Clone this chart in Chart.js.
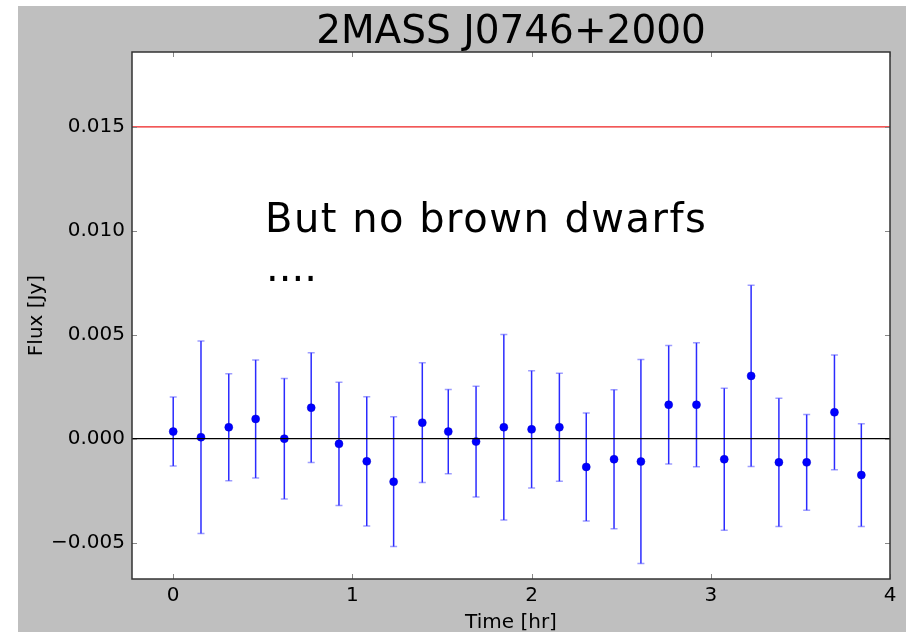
<!DOCTYPE html>
<html>
<head>
<meta charset="utf-8">
<script src="https://cdn.jsdelivr.net/npm/chart.js@4.4.1/dist/chart.umd.min.js"></script>
<style>
  body { margin: 0; background: #ffffff; }
  #fluxChart { position: absolute; left: 18px; top: 6px; background: #bfbfbf; }
</style>
</head>
<body>
<canvas id="fluxChart" width="888" height="626"></canvas>
<script>
// light curve values
const times = [0.00, 0.155, 0.31, 0.46, 0.62, 0.77, 0.925, 1.08, 1.23, 1.39, 1.535, 1.69, 1.845,
               2.00, 2.155, 2.305, 2.46, 2.61, 2.765, 2.92, 3.075, 3.225, 3.38, 3.535, 3.69, 3.84];
const flux = [0.00034, 0.00007, 0.00055, 0.00095, 0.00000, 0.00149, -0.00025, -0.00109, -0.00207,
              0.00077, 0.00034, -0.00014, 0.00055, 0.00045, 0.00055, -0.00136, -0.00099, -0.00110,
              0.00163, 0.00163, -0.00099, 0.00302, -0.00114, -0.00114, 0.00127, -0.00175];
const fluxErr = [0.00166, 0.00463, 0.00257, 0.00284, 0.00290, 0.00264, 0.00296, 0.00311, 0.00312,
                 0.00288, 0.00203, 0.00266, 0.00446, 0.00282, 0.00260, 0.00260, 0.00334, 0.00491,
                 0.00285, 0.00298, 0.00342, 0.00436, 0.00308, 0.00230, 0.00276, 0.00247];
const xTicks = [0, 1, 2, 3, 4];
const yTicks = [-0.005, 0.000, 0.005, 0.010, 0.015];
const xRange = [-0.23, 4];
const yRange = [-0.00675, 0.0186];
const limitLevel = 0.015;
const zeroLevel = 0;

const FONT = 'DejaVu Sans';

function tickLabel(v) {
    return v.toFixed(3).replace('-', '\u2212');
}

// white plot area, frame and inward ticks like the original
const framePlugin = {
    id: 'frame',
    beforeDraw(chart) {
        const a = chart.chartArea;
        const ctx = chart.ctx;
        ctx.save();
        ctx.fillStyle = '#ffffff';
        ctx.fillRect(a.left, a.top, a.right - a.left, a.bottom - a.top);
        ctx.restore();
    },
    afterDraw(chart) {
        const a = chart.chartArea;
        const ctx = chart.ctx;
        const xs = chart.scales.x, ys = chart.scales.y;
        ctx.save();
        ctx.strokeStyle = '#888';
        ctx.lineWidth = 1;
        ctx.beginPath();
        xTicks.forEach(v => {
            const px = Math.round(xs.getPixelForValue(v)) + 0.5;
            ctx.moveTo(px, a.bottom); ctx.lineTo(px, a.bottom - 5);
            ctx.moveTo(px, a.top); ctx.lineTo(px, a.top + 5);
        });
        yTicks.forEach(v => {
            const py = Math.round(ys.getPixelForValue(v)) + 0.5;
            ctx.moveTo(a.left, py); ctx.lineTo(a.left + 5, py);
            ctx.moveTo(a.right, py); ctx.lineTo(a.right - 5, py);
        });
        ctx.stroke();
        ctx.strokeStyle = '#333';
        ctx.lineWidth = 1.5;
        ctx.strokeRect(a.left, a.top, a.right - a.left, a.bottom - a.top);
        // annotation
        ctx.fillStyle = '#000';
        ctx.font = '40px "' + FONT + '"';
        ctx.textAlign = 'left';
        ctx.textBaseline = 'alphabetic';
        ctx.letterSpacing = '1.5px';
        ctx.fillText('But no brown dwarfs', 247, 226);
        ctx.letterSpacing = '0px';
        ctx.fillText('....', 248, 275);
        ctx.restore();
    }
};

// vertical error bars with caps, drawn under the points
const errorBarPlugin = {
    id: 'errorBars',
    beforeDatasetDraw(chart, args) {
        if (args.index !== 2) return;
        const ctx = chart.ctx;
        const xs = chart.scales.x, ys = chart.scales.y;
        ctx.save();
        times.forEach((t, i) => {
            const px = xs.getPixelForValue(t);
            const top = ys.getPixelForValue(flux[i] + fluxErr[i]);
            const bot = ys.getPixelForValue(flux[i] - fluxErr[i]);
            ctx.strokeStyle = 'rgba(20, 20, 255, 0.9)';
            ctx.lineWidth = 1.5;
            ctx.beginPath();
            ctx.moveTo(px, top); ctx.lineTo(px, bot);
            ctx.stroke();
            ctx.strokeStyle = 'rgba(60, 60, 255, 0.5)';
            ctx.lineWidth = 1.5;
            ctx.beginPath();
            ctx.moveTo(px - 3.5, top); ctx.lineTo(px + 3.5, top);
            ctx.moveTo(px - 3.5, bot); ctx.lineTo(px + 3.5, bot);
            ctx.stroke();
        });
        ctx.restore();
    }
};

document.addEventListener('DOMContentLoaded', function() {
    const ctx = document.getElementById('fluxChart').getContext('2d');
    new Chart(ctx, {
        type: 'scatter',
        data: {
            datasets: [
                {
                    label: 'limit',
                    data: xRange.map(x => ({ x: x, y: limitLevel })),
                    showLine: true,
                    borderColor: '#ee2020',
                    borderWidth: 1.3,
                    pointRadius: 0
                },
                {
                    label: 'zero',
                    data: xRange.map(x => ({ x: x, y: zeroLevel })),
                    showLine: true,
                    borderColor: '#000000',
                    borderWidth: 1.3,
                    pointRadius: 0
                },
                {
                    label: 'Flux',
                    data: times.map((t, i) => ({ x: t, y: flux[i] })),
                    backgroundColor: '#0000ff',
                    borderColor: '#0000cc',
                    borderWidth: 0.5,
                    pointRadius: 4
                }
            ]
        },
        plugins: [framePlugin, errorBarPlugin],
        options: {
            responsive: false,
            animation: false,
            devicePixelRatio: 1,
            layout: { padding: { top: 0, right: 16, bottom: 0, left: 0 } },
            plugins: {
                legend: { display: false },
                tooltip: { enabled: false },
                title: {
                    display: true,
                    fullSize: false,
                    text: '2MASS J0746+2000',
                    color: '#000',
                    font: { family: FONT, size: 39, weight: 'normal', lineHeight: 1 },
                    padding: { top: 7, bottom: 0 }
                }
            },
            scales: {
                x: {
                    type: 'linear',
                    min: xRange[0],
                    max: xRange[1],
                    afterBuildTicks: s => { s.ticks = xTicks.map(v => ({ value: v })); },
                    afterFit: s => { s.height = 53; },
                    grid: { display: false, drawTicks: false },
                    border: { display: false },
                    ticks: {
                        color: '#000',
                        padding: 5,
                        maxRotation: 0,
                        font: { family: FONT, size: 20 },
                        callback: v => String(v)
                    },
                    title: {
                        display: true,
                        text: 'Time [hr]',
                        color: '#000',
                        font: { family: FONT, size: 20, lineHeight: 0.9 },
                        padding: { top: 0, bottom: 0 }
                    }
                },
                y: {
                    type: 'linear',
                    min: yRange[0],
                    max: yRange[1],
                    afterBuildTicks: s => { s.ticks = yTicks.map(v => ({ value: v })); },
                    afterFit: s => { s.width = 114; },
                    grid: { display: false, drawTicks: false },
                    border: { display: false },
                    ticks: {
                        color: '#000',
                        padding: 7,
                        font: { family: FONT, size: 20 },
                        callback: v => tickLabel(v)
                    },
                    title: {
                        display: true,
                        text: 'Flux [Jy]',
                        color: '#000',
                        font: { family: FONT, size: 20, lineHeight: 1.2 },
                        padding: { top: 7, bottom: 0 }
                    }
                }
            }
        }
    });
});
</script>
</body>
</html>
